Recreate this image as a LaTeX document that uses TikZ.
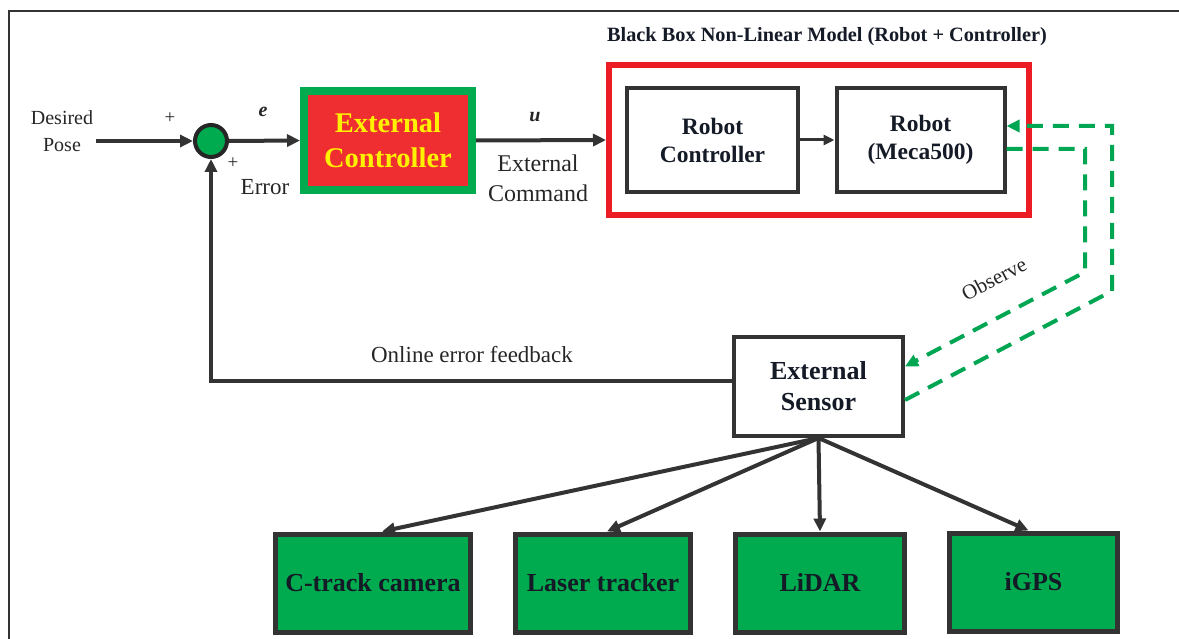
\documentclass[tikz,border=0pt]{standalone}
\usepackage{fontspec}
\setmainfont{Liberation Serif}
\usetikzlibrary{arrows.meta,positioning,calc}
\definecolor{dk}{HTML}{333333}
\definecolor{txt}{HTML}{141A26}
\definecolor{gfill}{HTML}{00AA4E}
\definecolor{rline}{HTML}{ED1C24}
\definecolor{rfill}{HTML}{EE2E31}
\definecolor{yel}{HTML}{FFF200}
\definecolor{dgreen}{HTML}{00A651}
\tikzset{
  arr/.style={draw=dk,line width=4pt,-{Triangle[length=13pt,width=12pt]}},
  arrs/.style={draw=dk,line width=3pt,-{Triangle[length=11pt,width=10pt]}},
  dsh/.style={draw=dgreen,line width=4pt,dash pattern=on 16pt off 10pt},
  wbox/.style={draw=dk,line width=4pt,fill=white,inner sep=0pt,align=center,text=txt,
     font=\bfseries\fontsize{23.5}{28}\selectfont},
  gbox/.style={draw=dk,line width=5pt,fill=gfill,inner sep=0pt,align=center,text=txt,
     minimum height=98pt,font=\bfseries\fontsize{26}{30}\selectfont},
  lbl/.style={inner sep=0pt,text=black!85,align=center}
}
\begin{document}
\begin{tikzpicture}[x=1pt,y=-1pt]
\useasboundingbox (0,0) rectangle (1179,639);
% frame
\draw[line width=2pt,dk] (9,639) -- (9,11) -- (1179,11);

% title
\node[lbl,font=\bfseries\fontsize{20.3}{24}\selectfont,text=txt] (title) at (827,37) {Black Box Non-Linear Model (Robot + Controller)};

% left part
\node[lbl,font=\fontsize{20}{27}\selectfont,inner sep=3pt] (dp) at (62,131) {Desired\\Pose};
\node[circle,draw=black!85,line width=4pt,fill=gfill,minimum size=32pt,inner sep=0pt] (sum) at (211,141) {};
\node[lbl,font=\fontsize{19}{20}\selectfont] (p1) at (170,118) {+};
\node[lbl,font=\fontsize{19}{20}\selectfont] (p2) at (233,163) {+};
\node[lbl,font=\bfseries\itshape\fontsize{20}{24}\selectfont] (e) at (263,112) {e};
\node[lbl,font=\fontsize{23}{26}\selectfont] (err) at (265,187) {Error};

\node[draw=gfill,line width=8pt,fill=rfill,minimum width=168pt,minimum height=99pt,inner sep=0pt,
  align=center,text=yel,font=\bfseries\fontsize{28.5}{35}\selectfont] (ctrl) at (388,140.5) {External\\Controller};

\node[lbl,font=\bfseries\itshape\fontsize{20}{24}\selectfont] (u) at (535,117) {u};
\node[lbl,font=\fontsize{24}{30}\selectfont] (ec) at (538,178) {External\\Command};

% black box
\node[draw=rline,line width=6pt,minimum width=420pt,minimum height=150pt,inner sep=0pt] (bb) at (819,140) {};
\node[wbox,minimum width=171pt,minimum height=104pt] (rc) at (712.5,140) {Robot\\Controller};
\node[wbox,minimum width=168pt,minimum height=104pt] (rm) at (920.5,140) {Robot\\(Meca500)};

% sensor
\node[wbox,minimum width=169pt,minimum height=99pt,font=\bfseries\fontsize{26}{31}\selectfont] (sen) at (818.5,386.5) {External\\Sensor};

% bottom boxes
\node[gbox,minimum width=195pt] (ct) at (373,583) {\raisebox{-2pt}{C-track camera}};
\node[gbox,minimum width=175pt] (lt) at (603,583) {\raisebox{-2pt}{Laser tracker}};
\node[gbox,minimum width=169pt] (ld) at (820,583) {\raisebox{-2pt}{LiDAR}};
\node[gbox,minimum width=168pt] (ig) at (1033.5,582) {\raisebox{-2pt}{iGPS}};

% main arrows
\draw[arr] (dp.east |- sum.west) -- (sum.west);
\draw[arr] (sum.east) -- (ctrl.west);
\draw[arr] (ctrl.east) -- (bb.west);
\draw[arrs] (rc.east) -- (rm.west);

% feedback
\draw[arr] ([yshift=5.5pt]sen.west) -| (sum.south);
\node[lbl,font=\fontsize{23}{26}\selectfont] (ofb) at (472,355) {Online error feedback};

% sensor to devices
\draw[arr] (sen.south) -- ([xshift=9pt]ct.north);
\draw[arr] (sen.south) -- ([xshift=4pt]lt.north);
\draw[arr] (sen.south) -- (ld.north);
\draw[arr] (sen.south) -- ([xshift=-5pt]ig.north);

% observe dashed loops
\coordinate (a1) at (1085,272);
\coordinate (b1) at (1112,291);
\draw[dsh,-{Triangle[length=13pt,width=12pt]}] ([yshift=-9pt]rm.east) -| (a1) -- ([yshift=20pt]sen.east);
\draw[dsh,-{Triangle[length=13pt,width=12pt]}] ([yshift=-13.5pt]sen.east) -- (b1) |- ([yshift=14pt]rm.east);
\node[lbl,rotate=28,font=\fontsize{21}{24}\selectfont] (obs) at (994,279) {Observe};
\end{tikzpicture}
\end{document}
